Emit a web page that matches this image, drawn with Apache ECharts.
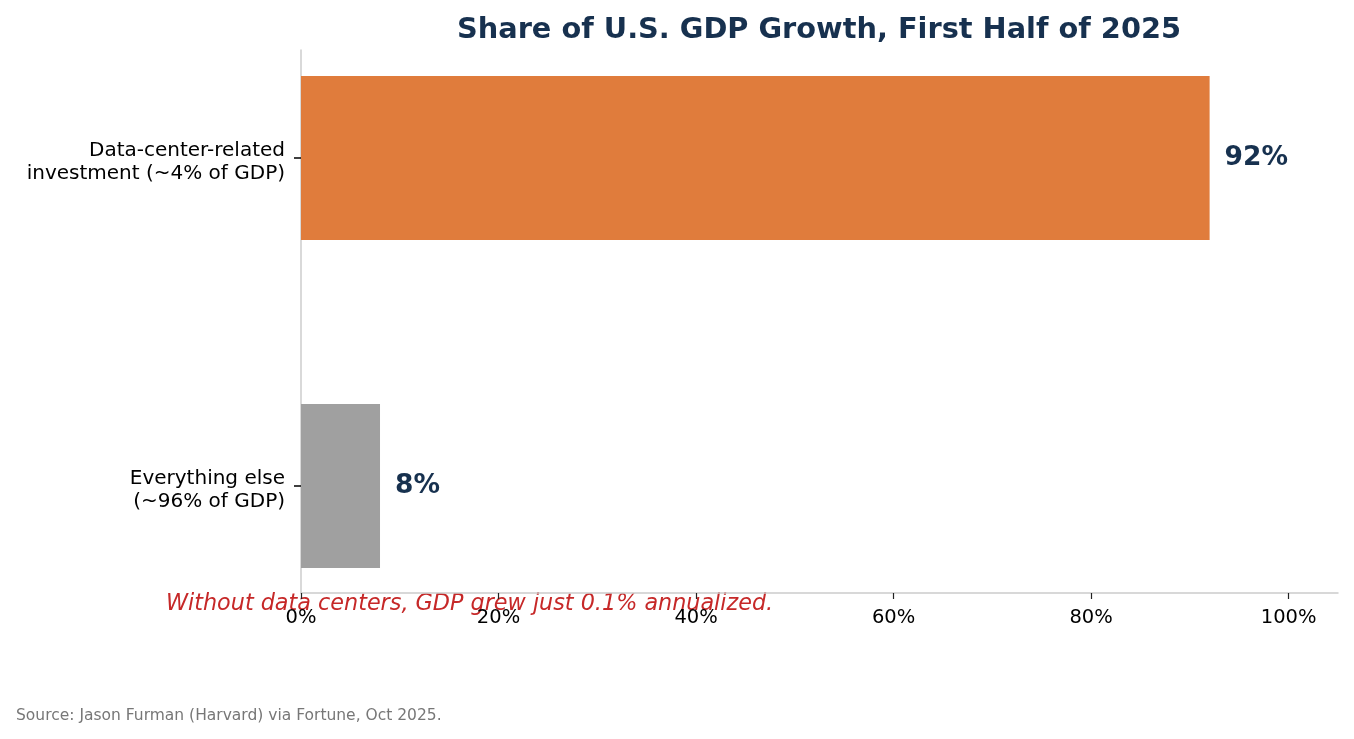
<!DOCTYPE html>
<html>
<head>
<meta charset="utf-8">
<script src="https://cdn.jsdelivr.net/npm/echarts@6/dist/echarts.min.js"></script>
<style>
  html, body { margin: 0; padding: 0; background: #fff; }
  #main { width: 1354px; height: 739px; }
</style>
</head>
<body>
<div id="main"></div>
<script>
// data
var categories = [
  'Everything else\n(~96% of GDP)',
  'Data-center-related\ninvestment (~4% of GDP)'
];
var shares = [8, 92];
var barColors = ['#a0a0a0', '#e07c3c'];
var xTicks = [0, 20, 40, 60, 80, 100];

var navy = '#17314f';
var font = 'DejaVu Sans';

var chart = echarts.init(document.getElementById('main'));

var option = {
  backgroundColor: '#fff',
  animation: false,
  title: {
    text: 'Share of U.S. GDP Growth, First Half of 2025',
    left: 814,
    textAlign: 'center',
    top: 11,
    textStyle: { fontFamily: font, fontSize: 28.8, fontWeight: 'bold', color: navy }
  },
  // grid 0 = the frame with axes, grid 1 = the bars (taller so bands match)
  grid: [
    { left: 301, right: 16, top: 50, bottom: 146, outerBoundsMode: 'none' },
    { left: 301, right: 16, top: -6, bottom: 89, outerBoundsMode: 'none' }
  ],
  xAxis: [
    {
      gridIndex: 0,
      type: 'value',
      min: 0,
      max: 105,
      interval: 20,
      axisLine: { show: true, lineStyle: { color: '#cccccc', width: 1.5 } },
      axisTick: { show: true, length: 6, customValues: xTicks, lineStyle: { color: '#222', width: 1.2 } },
      axisLabel: {
        customValues: xTicks,
        formatter: '{value}%',
        margin: 15,
        fontFamily: font, fontSize: 19.5, color: '#000'
      },
      splitLine: { show: false }
    },
    {
      gridIndex: 1,
      type: 'value',
      min: 0,
      max: 105,
      show: false
    }
  ],
  yAxis: [
    {
      gridIndex: 0,
      type: 'value',
      min: 0,
      max: 1,
      axisLine: { show: true, lineStyle: { color: '#cccccc', width: 1.5 } },
      axisTick: { show: false },
      axisLabel: { show: false },
      splitLine: { show: false }
    },
    {
      gridIndex: 1,
      type: 'category',
      data: categories,
      axisLine: { show: false },
      axisTick: { show: true, alignWithLabel: true, length: 7, lineStyle: { color: '#000', width: 1.5 } },
      axisLabel: {
        margin: 16,
        align: 'right',
        // small empty top line nudges the block down a few px, like matplotlib
        formatter: function (v) {
          return '{s| }\n' + v.split('\n').map(function (l) { return '{a|' + l + '}'; }).join('\n');
        },
        rich: {
          s: { fontSize: 1, lineHeight: 8 },
          a: { fontFamily: font, fontSize: 20, color: '#000', lineHeight: 23, align: 'right' }
        }
      }
    }
  ],
  series: [
    {
      type: 'bar',
      xAxisIndex: 1,
      yAxisIndex: 1,
      barWidth: '50%',
      data: shares.map(function (v, i) {
        return { value: v, itemStyle: { color: barColors[i] } };
      }),
      label: {
        show: true,
        position: 'right',
        distance: 15,
        formatter: '{c}%',
        fontFamily: font, fontSize: 26.5, fontWeight: 'bold', color: navy
      }
    }
  ],
  graphic: [
    {
      type: 'text',
      left: 166,
      top: 593,
      style: {
        text: 'Without data centers, GDP grew just 0.1% annualized.',
        font: 'italic 22.3px "DejaVu Sans"',
        fill: '#c62828'
      }
    },
    {
      type: 'text',
      left: 16,
      top: 708,
      style: {
        text: 'Source: Jason Furman (Harvard) via Fortune, Oct 2025.',
        font: '15.5px "DejaVu Sans"',
        fill: '#777'
      }
    }
  ]
};

chart.setOption(option);
</script>
</body>
</html>
